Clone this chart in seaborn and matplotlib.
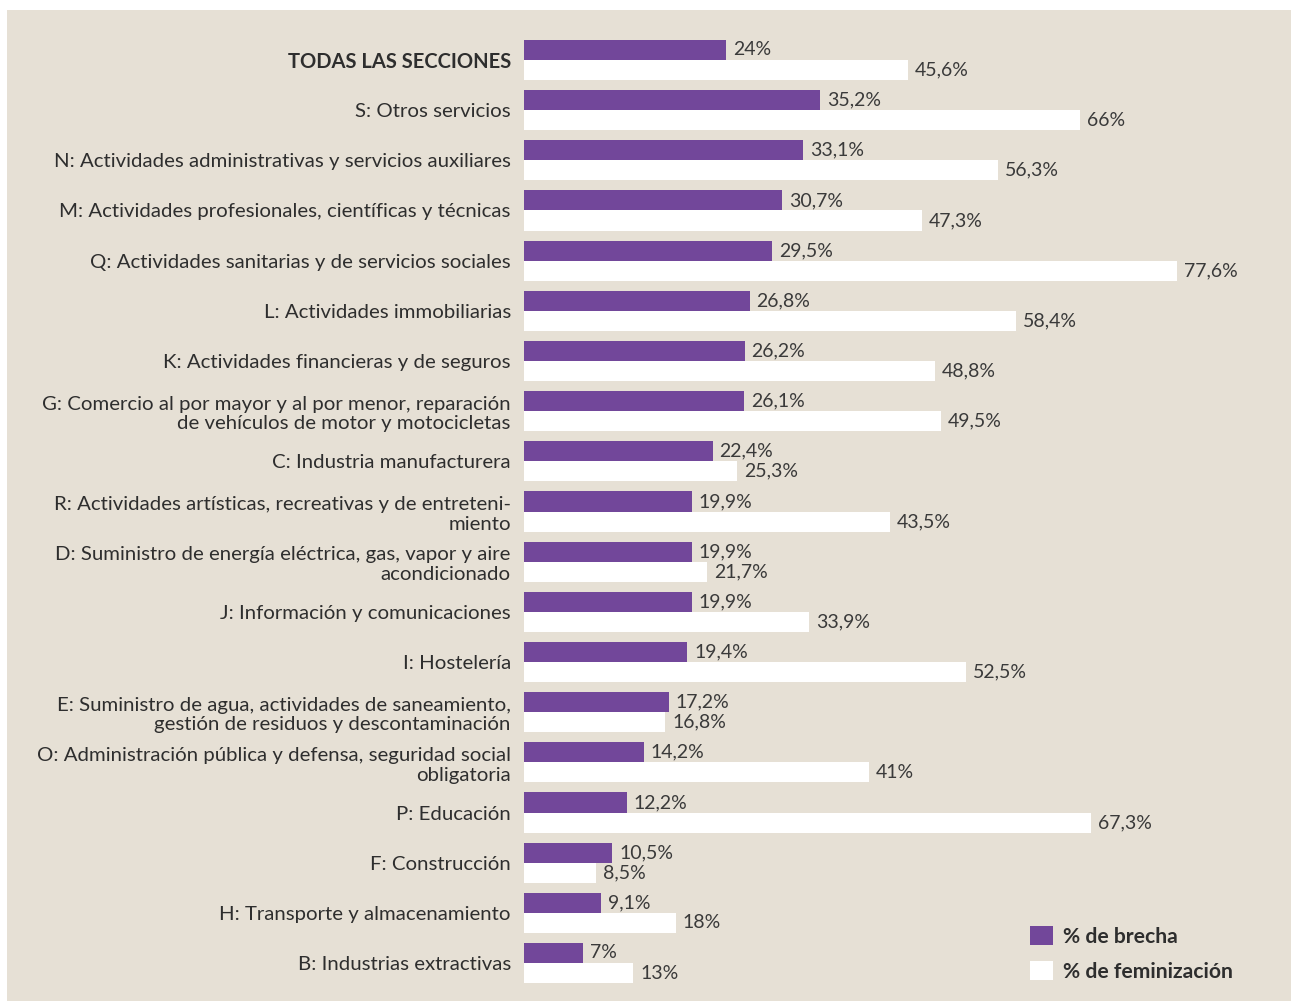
import matplotlib
matplotlib.use("Agg")
import matplotlib.pyplot as plt
import seaborn as sns
import pandas as pd
from matplotlib.patches import Rectangle, Patch

categories = [
    "TODAS LAS SECCIONES",
    "S: Otros servicios",
    "N: Actividades administrativas y servicios auxiliares",
    "M: Actividades profesionales, científicas y técnicas",
    "Q: Actividades sanitarias y de servicios sociales",
    "L: Actividades immobiliarias",
    "K: Actividades financieras y de seguros",
    "G: Comercio al por mayor y al por menor, reparación\nde vehículos de motor y motocicletas",
    "C: Industria manufacturera",
    "R: Actividades artísticas, recreativas y de entreteni-\nmiento",
    "D: Suministro de energía eléctrica, gas, vapor y aire\nacondicionado",
    "J: Información y comunicaciones",
    "I: Hostelería",
    "E: Suministro de agua, actividades de saneamiento,\ngestión de residuos y descontaminación",
    "O: Administración pública y defensa, seguridad social\nobligatoria",
    "P: Educación",
    "F: Construcción",
    "H: Transporte y almacenamiento",
    "B: Industrias extractivas",
]
brecha = [24, 35.2, 33.1, 30.7, 29.5, 26.8, 26.2, 26.1, 22.4, 19.9, 19.9, 19.9,
          19.4, 17.2, 14.2, 12.2, 10.5, 9.1, 7]
feminizacion = [45.6, 66, 56.3, 47.3, 77.6, 58.4, 48.8, 49.5, 25.3, 43.5, 21.7,
                33.9, 52.5, 16.8, 41, 67.3, 8.5, 18, 13]
series_names = ["% de brecha", "% de feminización"]

PURPLE = "#72479a"
BEIGE = "#e6e0d5"
TEXT = "#2e2e2e"
VAL = "#3a3a3a"

df = pd.DataFrame({
    "cat": categories * 2,
    "valor": brecha + feminizacion,
    "serie": [series_names[0]] * len(categories) + [series_names[1]] * len(categories),
})

sns.set_theme(style="white")
plt.rcParams["font.family"] = ["Lato", "DejaVu Sans"]

W, H = 1291, 1001
fig = plt.figure(figsize=(W / 100, H / 100), dpi=100, facecolor="white")
fig.patches.append(Rectangle((7 / W, 0), 1 - 7 / W, 1 - 10 / H,
                             transform=fig.transFigure, facecolor=BEIGE,
                             edgecolor="none", zorder=-10))

ax_left = 524 / W
ax_top = 1 - 34.9 / H
ax_bot = 1 - 988.1 / H
ax = fig.add_axes([ax_left, ax_bot, 1 - ax_left, ax_top - ax_bot])
ax.set_zorder(5)
ax.set_facecolor("none")

sns.barplot(data=df, y="cat", x="valor", hue="serie", orient="h",
            palette=[PURPLE, "white"], width=0.8, gap=0, saturation=1,
            edgecolor="none", linewidth=0, ax=ax, legend=False)

ax.set_xlim(0, 767 / 8.42)
ax.set_ylim(len(categories) - 0.5, -0.5)


def fmt(v):
    if float(v).is_integer():
        return f"{int(v)}%"
    return f"{v:.1f}".replace(".", ",") + "%"


for cont, vals in zip(ax.containers, [brecha, feminizacion]):
    ax.bar_label(cont, labels=[fmt(v) for v in vals], padding=5,
                 fontsize=14, color=VAL)

ax.set_xlabel("")
ax.set_ylabel("")
ax.set_xticks([])
ax.set_yticks(range(len(categories)))
ax.set_yticklabels(categories, fontsize=14.7, color=TEXT, linespacing=1.2)
ax.tick_params(axis="y", length=0, pad=9.5)
first = ax.get_yticklabels()[0]
first.set_fontweight("bold")
first.set_fontsize(14.5)
for s in ax.spines.values():
    s.set_visible(False)

handles = [Patch(facecolor=PURPLE, edgecolor="none"),
           Patch(facecolor="white", edgecolor="none")]
leg = ax.legend(handles, series_names, loc="lower left",
                bbox_to_anchor=(1022 / W, 1 - 990 / H),
                bbox_transform=fig.transFigure, frameon=False,
                borderaxespad=0,
                handlelength=1.05, handleheight=1.05, handletextpad=0.47,
                labelspacing=0.65, prop={"weight": "bold", "size": 15.2})
for t in leg.get_texts():
    t.set_color(TEXT)

fig.savefig("out.png", dpi=100, facecolor="white")
